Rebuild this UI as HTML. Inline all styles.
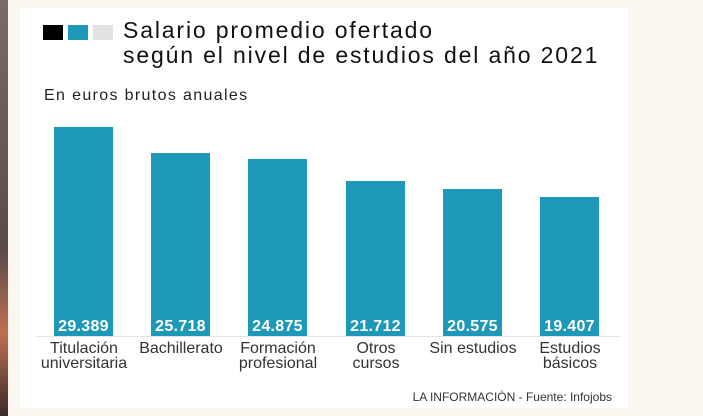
<!DOCTYPE html>
<html><head><meta charset="utf-8"><style>
body{margin:0;width:703px;height:416px;background:#fbf6ef;position:relative;overflow:hidden;font-family:"Liberation Sans",sans-serif}
.strip{position:absolute;left:0;top:0;width:8px;height:416px;background:linear-gradient(#7a6a6a,#5a4a4a 60%,#c07050 80%,#3a2a2a)}
.card{position:absolute;left:20px;top:8px;width:608px;height:400px;background:#fff}
.sq{position:absolute;top:25px;width:20px;height:15px}
.t{position:absolute;left:123px;font-size:23px;letter-spacing:1.85px;color:#111;white-space:nowrap}
.bar{position:absolute;width:59px;background:#1e98b8;bottom:80px}
.v{position:absolute;bottom:80px;width:59px;text-align:center;color:#fff;font-weight:bold;font-size:16px;letter-spacing:0.3px}
.c{position:absolute;top:341px;width:120px;text-align:center;font-size:16px;line-height:15px;color:#333}
</style></head><body>
<div class="strip"></div>
<div class="card"></div>
<div class="sq" style="left:43px;background:#000"></div>
<div class="sq" style="left:68px;background:#1e98b8"></div>
<div class="sq" style="left:93px;background:#e2e2e2"></div>
<div class="t" style="top:17px">Salario promedio ofertado</div>
<div class="t" style="top:42px">según el nivel de estudios del año 2021</div>
<div style="position:absolute;left:44px;top:87px;font-size:16px;letter-spacing:1.35px;color:#222">En euros brutos anuales</div>
<div class="bar" style="left:54px;top:127px"></div>
<div class="bar" style="left:151px;top:153px"></div>
<div class="bar" style="left:248px;top:159px"></div>
<div class="bar" style="left:346px;top:181px"></div>
<div class="bar" style="left:443px;top:189px"></div>
<div class="bar" style="left:540px;top:197px"></div>
<div class="v" style="left:54px">29.389</div>
<div class="v" style="left:151px">25.718</div>
<div class="v" style="left:248px">24.875</div>
<div class="v" style="left:346px">21.712</div>
<div class="v" style="left:443px">20.575</div>
<div class="v" style="left:540px">19.407</div>
<div style="position:absolute;left:36px;top:336px;width:584px;height:1px;background:#e4e4e4"></div>
<div class="c" style="left:24px">Titulación<br>universitaria</div>
<div class="c" style="left:121px">Bachillerato</div>
<div class="c" style="left:218px">Formación<br>profesional</div>
<div class="c" style="left:316px">Otros<br>cursos</div>
<div class="c" style="left:413px">Sin estudios</div>
<div class="c" style="left:510px">Estudios<br>básicos</div>
<div style="position:absolute;right:91px;top:390px;font-size:12px;color:#333">LA INFORMACIÓN - Fuente: Infojobs</div>
</body></html>
